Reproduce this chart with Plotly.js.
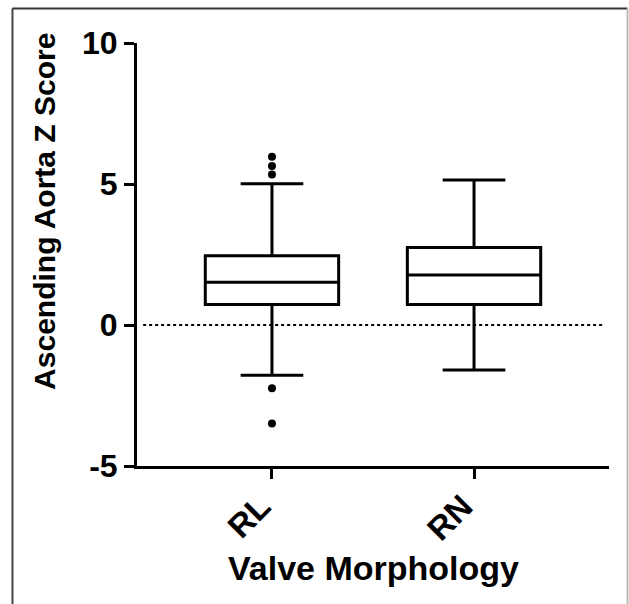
<!DOCTYPE html>
<html>
<head>
<meta charset="utf-8">
<script src="https://cdn.plot.ly/plotly-3.0.1.min.js"></script>
<style>html,body{margin:0;padding:0;background:#fff;}#chart{width:629px;height:604px;}</style>
</head>
<body>
<div id="chart"></div>
<script>
// Data
var categories = ['RL', 'RN'];
var q1Values = [0.73, 0.73];
var medianValues = [1.52, 1.77];
var q3Values = [2.46, 2.75];
var lowerWhisker = [-1.78, -1.60];
var upperWhisker = [5.01, 5.14];
var outlierCategories = ['RL', 'RL', 'RL', 'RL', 'RL'];
var outlierValues = [5.97, 5.64, 5.34, -2.24, -3.49];
var yTickValues = [-5, 0, 5, 10];
var yTickLabels = ['-5', '0', '5', '10'];
var xTitle = 'Valve Morphology';
var yTitle = 'Ascending Aorta Z Score';

var FONT = 'Liberation Sans, Arial, Helvetica, sans-serif';

var boxTrace = {
  type: 'box',
  x: categories,
  q1: q1Values,
  median: medianValues,
  q3: q3Values,
  lowerfence: lowerWhisker,
  upperfence: upperWhisker,
  boxpoints: false,
  width: 0.66,
  whiskerwidth: 0.47,
  fillcolor: '#ffffff',
  line: {color: '#000000', width: 3},
  hoverinfo: 'skip'
};

var outlierTrace = {
  type: 'scatter',
  mode: 'markers',
  x: outlierCategories,
  y: outlierValues,
  marker: {color: '#000000', size: 8, symbol: 'circle'},
  hoverinfo: 'skip'
};

var layout = {
  width: 629,
  height: 604,
  margin: {l: 137, r: 20, t: 43, b: 138, pad: 0},
  paper_bgcolor: '#ffffff',
  plot_bgcolor: '#ffffff',
  showlegend: false,
  font: {family: FONT, color: '#000000'},
  xaxis: {
    type: 'category',
    categoryorder: 'array',
    categoryarray: categories,
    range: [-0.668, 1.668],
    showgrid: false,
    zeroline: false,
    showline: true,
    linecolor: '#000000',
    linewidth: 3,
    ticks: 'outside',
    ticklen: 10,
    tickwidth: 3,
    tickcolor: '#000000',
    tickangle: -45,
    ticklabelshift: -11,
    ticklabelstandoff: -5,
    tickfont: {family: FONT, size: 33, weight: 'bold', color: '#000000'}
  },
  yaxis: {
    range: [-5, 10],
    tickvals: yTickValues,
    ticktext: yTickLabels,
    showgrid: false,
    zeroline: false,
    showline: true,
    linecolor: '#000000',
    linewidth: 3,
    ticks: 'outside',
    ticklen: 10,
    tickwidth: 3,
    tickcolor: '#000000',
    tickfont: {family: FONT, size: 32, weight: 'bold', color: '#000000'}
  },
  shapes: [
    {type: 'line', xref: 'paper', yref: 'y', x0: 0.013, x1: 0.99, y0: 0, y1: 0,
     line: {color: '#000000', width: 2, dash: 'dot'}, layer: 'below'},
    {type: 'line', xref: 'paper', yref: 'paper', x0: -0.2638, x1: -0.2638, y0: 1.0816, y1: -0.4,
     line: {color: '#444444', width: 2}},
    {type: 'line', xref: 'paper', yref: 'paper', x0: -0.2638, x1: 1.0392, y0: 1.0816, y1: 1.0816,
     line: {color: '#333333', width: 2}},
    {type: 'line', xref: 'paper', yref: 'paper', x0: 1.0392, x1: 1.0392, y0: 1.0816, y1: -0.4,
     line: {color: '#bbbbbb', width: 2}}
  ],
  annotations: [
    {text: xTitle, xref: 'paper', yref: 'paper', x: 0.5, y: -0.241,
     xanchor: 'center', yanchor: 'middle', showarrow: false,
     font: {family: FONT, size: 34, weight: 'bold', color: '#000000'}},
    {text: yTitle, xref: 'paper', yref: 'paper', x: -0.195, y: 0.603,
     xanchor: 'center', yanchor: 'middle', showarrow: false, textangle: -90,
     font: {family: FONT, size: 30, weight: 'bold', color: '#000000'}}
  ]
};

Plotly.newPlot('chart', [boxTrace, outlierTrace], layout, {staticPlot: true, displayModeBar: false});
</script>
</body>
</html>
